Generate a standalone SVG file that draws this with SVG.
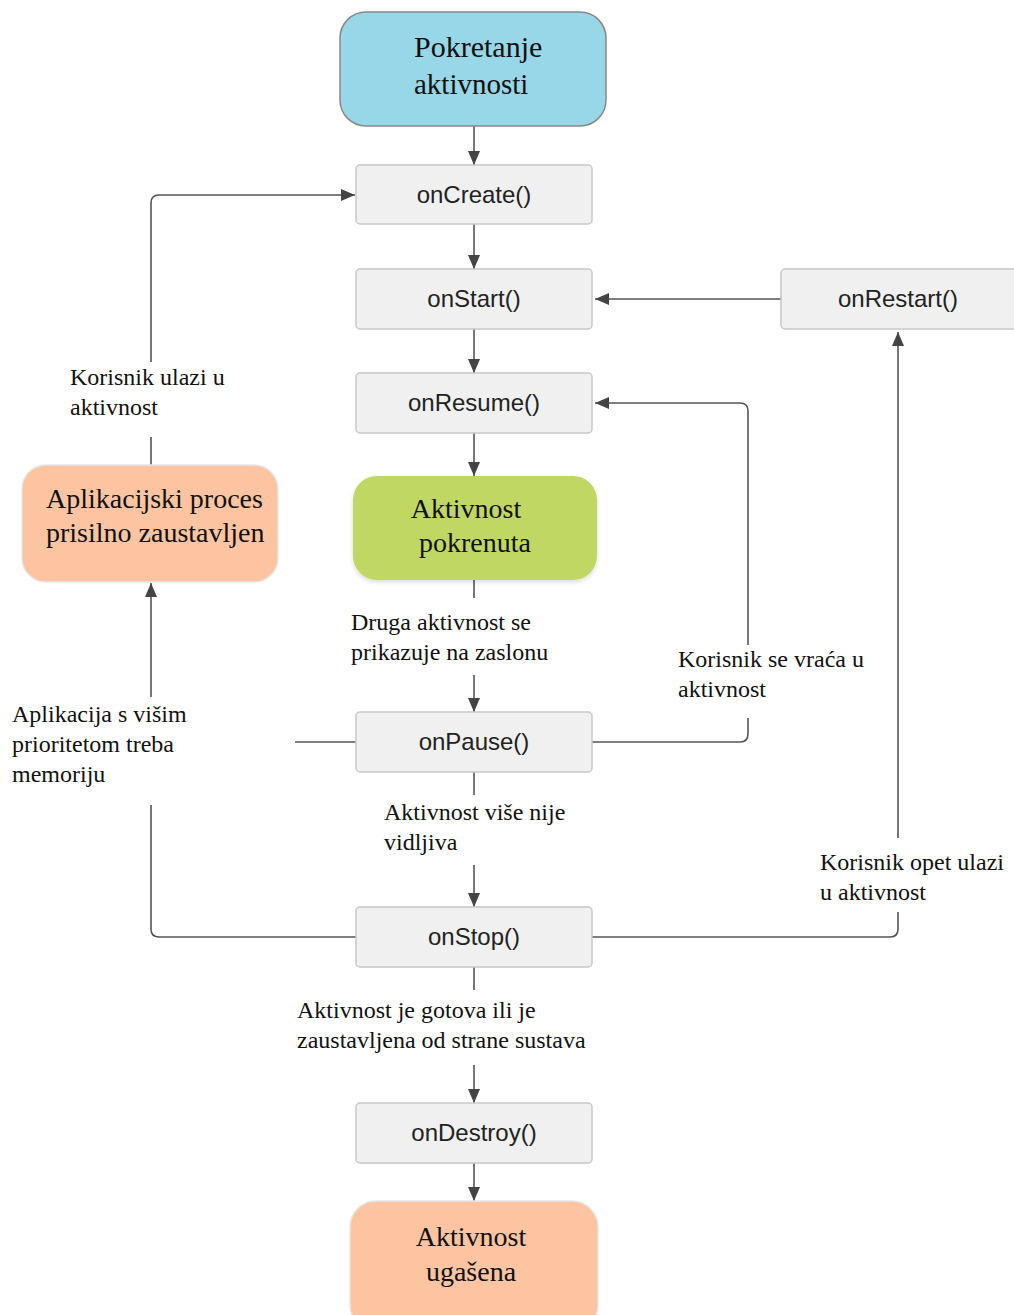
<svg xmlns="http://www.w3.org/2000/svg" width="1014" height="1315" viewBox="0 0 1014 1315">
<defs>
<marker id="arr" markerUnits="userSpaceOnUse" markerWidth="14" markerHeight="12" refX="14" refY="6" orient="auto">
<path d="M0,0 L14,6 L0,12 z" fill="#444"/>
</marker>
<filter id="sh" x="-10%" y="-10%" width="120%" height="130%">
<feDropShadow dx="0" dy="2" stdDeviation="2" flood-color="#000" flood-opacity="0.15"/>
</filter>
</defs>
<style>
.box{fill:#f0f0f0;stroke:#c8c8c8;stroke-width:1.5}
.bt{font-family:"Liberation Sans",Arial,sans-serif;font-size:24px;fill:#222;text-anchor:middle}
.big{font-family:"Liberation Serif","Times New Roman",serif;font-size:28px;fill:#111}
.lbl{font-family:"Liberation Serif","Times New Roman",serif;font-size:24px;fill:#111}
.c{fill:none;stroke:#555;stroke-width:1.6}
.ca{fill:none;stroke:#555;stroke-width:1.6;marker-end:url(#arr)}
</style>
<rect width="1014" height="1315" fill="#fff"/>

<g id="connectors">
<path class="ca" d="M474,126 V165"/>
<path class="ca" d="M474,224 V269"/>
<path class="ca" d="M474,329 V373"/>
<path class="ca" d="M474,433 V476"/>
<path class="c" d="M474,580 V598"/>
<path class="ca" d="M474,675 V712"/>
<path class="c" d="M474,772 V795"/>
<path class="ca" d="M474,865 V907"/>
<path class="c" d="M474,967 V990"/>
<path class="ca" d="M474,1065 V1103"/>
<path class="ca" d="M474,1163 V1201"/>
<path class="ca" d="M781,299 H595"/>
<path class="c" d="M592,742 H740 Q748,742 748,734 V718"/>
<path class="ca" d="M748,645 V411 Q748,403 740,403 H595"/>
<path class="c" d="M592,937 H890 Q898,937 898,929 V912"/>
<path class="ca" d="M898,838 V332"/>
<path class="c" d="M356,937 H159 Q151,937 151,929 V805"/>
<path class="ca" d="M151,697 V583"/>
<path class="c" d="M356,742 H295"/>
<path class="c" d="M151,465 V437"/>
<path class="ca" d="M151,362 V203 Q151,195 159,195 H355"/>
</g>

<g id="start">
<rect x="340" y="12" width="266" height="114" rx="26" fill="#97d7e8" stroke="#888" stroke-width="1.5"/>
<text class="big" x="414" y="57" style="font-size:30px">Pokretanje</text>
<text class="big" x="414" y="94" style="font-size:29px">aktivnosti</text>
</g>
<g id="onCreate"><rect class="box" x="356" y="165" width="236" height="59" rx="4"/><text class="bt" x="474" y="203">onCreate()</text></g>
<g id="onStart"><rect class="box" x="356" y="269" width="236" height="60" rx="4"/><text class="bt" x="474" y="307">onStart()</text></g>
<g id="onResume"><rect class="box" x="356" y="373" width="236" height="60" rx="4"/><text class="bt" x="474" y="411">onResume()</text></g>
<g id="onRestart"><rect class="box" x="781" y="269" width="240" height="60" rx="4"/><text class="bt" x="898" y="307">onRestart()</text></g>
<g id="running">
<rect x="353" y="476" width="244" height="104" rx="24" fill="#c0d863" filter="url(#sh)"/>
<text class="big" x="466" y="518" text-anchor="middle">Aktivnost</text>
<text class="big" x="475" y="552" text-anchor="middle">pokrenuta</text>
</g>
<g id="killed">
<rect x="22" y="465" width="256" height="117" rx="24" fill="#fcc4a0" stroke="#e6e6e6" stroke-width="1.5"/>
<text class="big" x="46" y="508">Aplikacijski proces</text>
<text class="big" x="46" y="542">prisilno zaustavljen</text>
</g>
<g id="onPause"><rect class="box" x="356" y="712" width="236" height="60" rx="4"/><text class="bt" x="474" y="750">onPause()</text></g>
<g id="onStop"><rect class="box" x="356" y="907" width="236" height="60" rx="4"/><text class="bt" x="474" y="945">onStop()</text></g>
<g id="onDestroy"><rect class="box" x="356" y="1103" width="236" height="60" rx="4"/><text class="bt" x="474" y="1141">onDestroy()</text></g>
<g id="shutdown">
<rect x="350" y="1201" width="248" height="130" rx="26" fill="#fcc4a0" stroke="#e6e6e6" stroke-width="1.5"/>
<text class="big" x="471" y="1246" text-anchor="middle">Aktivnost</text>
<text class="big" x="471" y="1281" text-anchor="middle">ugašena</text>
</g>

<g id="labels">
<text class="lbl" x="70" y="385">Korisnik ulazi u</text>
<text class="lbl" x="70" y="415">aktivnost</text>
<text class="lbl" x="351" y="630">Druga aktivnost se</text>
<text class="lbl" x="351" y="660">prikazuje na zaslonu</text>
<text class="lbl" x="12" y="722">Aplikacija s višim</text>
<text class="lbl" x="12" y="752">prioritetom treba</text>
<text class="lbl" x="12" y="782">memoriju</text>
<text class="lbl" x="678" y="667">Korisnik se vraća u</text>
<text class="lbl" x="678" y="697">aktivnost</text>
<text class="lbl" x="384" y="820">Aktivnost više nije</text>
<text class="lbl" x="384" y="850">vidljiva</text>
<text class="lbl" x="820" y="870">Korisnik opet ulazi</text>
<text class="lbl" x="820" y="900">u aktivnost</text>
<text class="lbl" x="297" y="1018">Aktivnost je gotova ili je</text>
<text class="lbl" x="297" y="1048">zaustavljena od strane sustava</text>
</g>
</svg>
